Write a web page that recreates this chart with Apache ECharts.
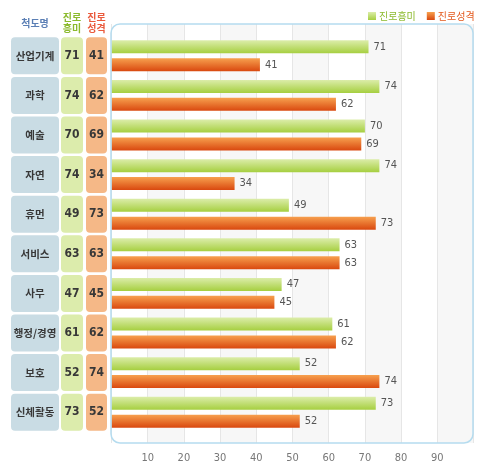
<!DOCTYPE html>
<html>
<head>
<meta charset="utf-8">
<script src="https://cdn.jsdelivr.net/npm/echarts@6/dist/echarts.min.js"></script>
<style>
html,body{margin:0;padding:0;background:#fff;}
#main{width:485px;height:472px;}
</style>
</head>
<body>
<div id="main"></div>
<script>
// 척도별 진로흥미 / 진로성격 점수
var categories = ['산업기계', '과학', '예술', '자연', '휴먼', '서비스', '사무', '행정/경영', '보호', '신체활동'];
var interest = [71, 74, 70, 74, 49, 63, 47, 61, 52, 73];
var personality = [41, 62, 69, 34, 73, 63, 45, 62, 74, 52];
var xTicks = [10, 20, 30, 40, 50, 60, 70, 80, 90];
var seriesNames = ['진로흥미', '진로성격'];

var FONT = '"Noto Sans CJK KR", "Noto Sans", sans-serif';
var NUMFONT = '"Liberation Sans Narrow", "DejaVu Sans Condensed", "Noto Sans", sans-serif';

var green = new echarts.graphic.LinearGradient(0, 0, 0, 1, [
    {offset: 0, color: '#dcedaa'},
    {offset: 1, color: '#a6cf40'}
]);
var orange = new echarts.graphic.LinearGradient(0, 0, 0, 1, [
    {offset: 0, color: '#f7a04e'},
    {offset: 1, color: '#d9480f'}
]);

// 왼쪽 표의 칸 (yAxis 라벨로 그림)
function tableAxis(margin, w, bg, fmt, fontSize) {
    return {
        type: 'category',
        gridIndex: 1,
        position: 'left',
        offset: 0,
        inverse: true,
        data: categories,
        axisLine: {show: false},
        axisTick: {show: false},
        axisLabel: {
            margin: margin,
            align: 'center',
            verticalAlign: 'middle',
            width: w,
            height: 37,
            lineHeight: 37,
            backgroundColor: bg,
            borderRadius: 4,
            color: '#383838',
            fontFamily: fmt ? NUMFONT : FONT,
            fontWeight: 'bold',
            fontSize: fontSize,
            formatter: fmt || function (v) { return v; }
        }
    };
}

var myChart = echarts.init(document.getElementById('main'));
var option = {
    animation: false,
    legend: {
        left: 363,
        top: 6,
        width: 122,
        icon: 'rect',
        itemWidth: 8,
        itemHeight: 8,
        itemGap: 11,
        textStyle: {fontFamily: FONT, fontSize: 10, padding: [0, 0, 0, -2]},
        data: [
            {name: seriesNames[0], textStyle: {color: '#8cba2e'}},
            {name: seriesNames[1], textStyle: {color: '#e35a1e'}}
        ]
    },
    grid: [
        {left: 111.5, width: 362, top: 24, height: 419, outerBoundsMode: 'none'},
        {left: 111.5, width: 362, top: 36, height: 396, outerBoundsMode: 'none'}
    ],
    xAxis: [
        {
            type: 'value', gridIndex: 0, min: 0, max: 100, interval: 10,
            axisLine: {show: false},
            axisTick: {show: false},
            splitLine: {lineStyle: {color: '#e6e6e6'}},
            splitArea: {show: true, areaStyle: {color: ['#ffffff', '#f7f7f7']}},
            axisLabel: {
                margin: 10,
                color: '#777',
                fontFamily: NUMFONT,
                fontSize: 11,
                formatter: function (v) { return xTicks.indexOf(v) >= 0 ? v : ''; }
            }
        },
        {
            type: 'value', gridIndex: 1, min: 0, max: 100, interval: 10,
            axisLine: {show: false}, axisTick: {show: false},
            axisLabel: {show: false}, splitLine: {show: false}
        }
    ],
    yAxis: [
        {type: 'category', gridIndex: 0, data: [''], show: false},
        tableAxis(76.5, 48, '#c9dce4', null, 10.5),
        tableAxis(39.5, 22, '#dcecac', function (v, i) { return interest[i]; }, 12),
        tableAxis(15, 21, '#f5b887', function (v, i) { return personality[i]; }, 12)
    ],
    series: [
        {
            name: seriesNames[0],
            type: 'bar',
            xAxisIndex: 1,
            yAxisIndex: 1,
            barWidth: 13,
            barGap: '38%',
            itemStyle: {color: green},
            label: {show: true, position: 'right', distance: 5, color: '#555', fontFamily: NUMFONT, fontSize: 11},
            data: interest
        },
        {
            name: seriesNames[1],
            type: 'bar',
            xAxisIndex: 1,
            yAxisIndex: 1,
            barWidth: 13,
            itemStyle: {color: orange},
            label: {show: true, position: 'right', distance: 5, color: '#555', fontFamily: NUMFONT, fontSize: 11},
            data: personality
        }
    ],
    graphic: [
        {
            type: 'rect', z: 10, silent: true,
            shape: {x: 111, y: 24, width: 362, height: 419, r: 9},
            style: {fill: 'none', stroke: '#b5dcef', lineWidth: 1.5}
        },
        {
            type: 'text', x: 35, y: 23, silent: true,
            style: {text: '척도명', fill: '#5b7fb5', font: 'bold 10px ' + FONT, align: 'center', verticalAlign: 'middle'}
        },
        {
            type: 'text', x: 72, y: 23, silent: true,
            style: {text: '진로\n흥미', fill: '#8cba2e', font: 'bold 10px ' + FONT, lineHeight: 11, align: 'center', verticalAlign: 'middle'}
        },
        {
            type: 'text', x: 96.5, y: 23, silent: true,
            style: {text: '진로\n성격', fill: '#ea5a3c', font: 'bold 10px ' + FONT, lineHeight: 11, align: 'center', verticalAlign: 'middle'}
        }
    ]
};
myChart.setOption(option);
</script>
</body>
</html>
